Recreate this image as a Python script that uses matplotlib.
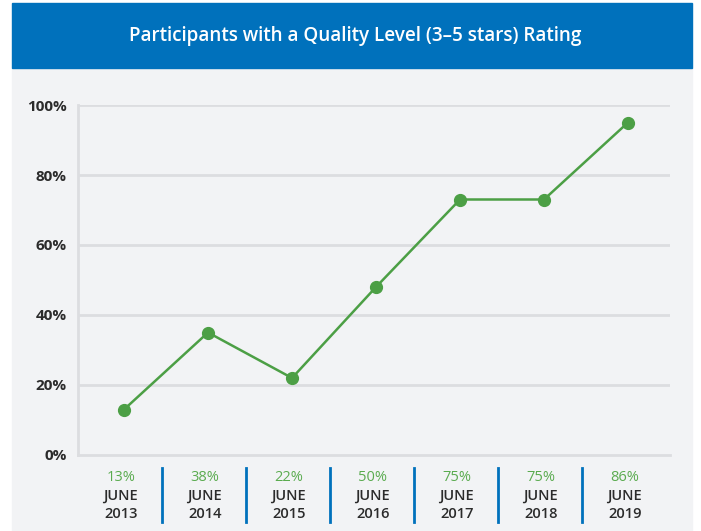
import matplotlib
matplotlib.use('Agg')
import matplotlib.pyplot as plt
from matplotlib.patches import Rectangle
import numpy as np

plt.rcParams['font.family'] = ['Open Sans', 'DejaVu Sans']

# data
years = ["2013", "2014", "2015", "2016", "2017", "2018", "2019"]
plotted = [13, 35, 22, 48, 73, 73, 95]          # where the dots sit
label_pct = [13, 38, 22, 50, 75, 75, 86]        # the printed percentages
yticks = [0, 20, 40, 60, 80, 100]

blue = "#0071bc"
green = "#4c9f45"
label_green = "#5aab4f"
panel = "#f2f3f5"
grid = "#dcdde0"
dark = "#2b2b2b"

W, H = 701, 531
fig = plt.figure(figsize=(W / 100, H / 100), dpi=100)
fig.patch.set_facecolor("white")

# background panel and title banner
fig.patches.append(Rectangle((12 / W, 0), 680 / W, (H - 68) / H,
                             transform=fig.transFigure, color=panel, zorder=-2))
fig.patches.append(Rectangle((12 / W, (H - 68) / H), 680 / W, 65 / H,
                             transform=fig.transFigure, color=blue, zorder=-2))
fig.text(355 / W, (H - 36) / H, "Participants with a Quality Level (3\u20135 stars) Rating",
         color="white", fontsize=13.6, fontweight="semibold", ha="center", va="center")

ax = fig.add_axes([78 / W, (H - 455) / H, (670 - 78) / W, 350 / H])
ax.set_zorder(2)
ax.set_facecolor("none")
x = np.arange(len(years))
ax.set_xlim(-0.548, 6.5)
ax.set_ylim(0, 100)

for t in yticks[1:]:
    ax.axhline(t, color=grid, lw=2, zorder=1)

ax.plot(x, plotted, color=green, lw=1.8, marker="o", markersize=8.5, zorder=3)

for s in ["top", "right"]:
    ax.spines[s].set_visible(False)
for s in ["left", "bottom"]:
    ax.spines[s].set_color(grid)
    ax.spines[s].set_linewidth(2)

ax.set_yticks(yticks)
ax.set_yticklabels([f"{t}%" for t in yticks], fontsize=11, fontweight="bold", color=dark)
ax.tick_params(axis="y", length=0, pad=8)
ax.set_xticks([])

# labels under the axis
for xi, pct, yr in zip(x, label_pct, years):
    lx = xi - 0.04
    ax.annotate(f"{pct}%", (lx, 0), xycoords="data", xytext=(0, -16),
                textcoords="offset points", ha="center", va="center",
                fontsize=10.5, color=label_green, annotation_clip=False)
    ax.annotate("JUNE", (lx, 0), xycoords="data", xytext=(0, -29.5),
                textcoords="offset points", ha="center", va="center",
                fontsize=10.5, fontweight="semibold", color=dark, annotation_clip=False)
    ax.annotate(yr, (lx, 0), xycoords="data", xytext=(0, -42.5),
                textcoords="offset points", ha="center", va="center",
                fontsize=10.5, fontweight="semibold", color=dark, annotation_clip=False)

# blue separators between the columns
for xs in x[:-1] + 0.45:
    ax.plot([xs, xs], [-3.7, -19.1], color=blue, lw=2, clip_on=False)

fig.savefig("out.png", dpi=100, facecolor=fig.get_facecolor())
